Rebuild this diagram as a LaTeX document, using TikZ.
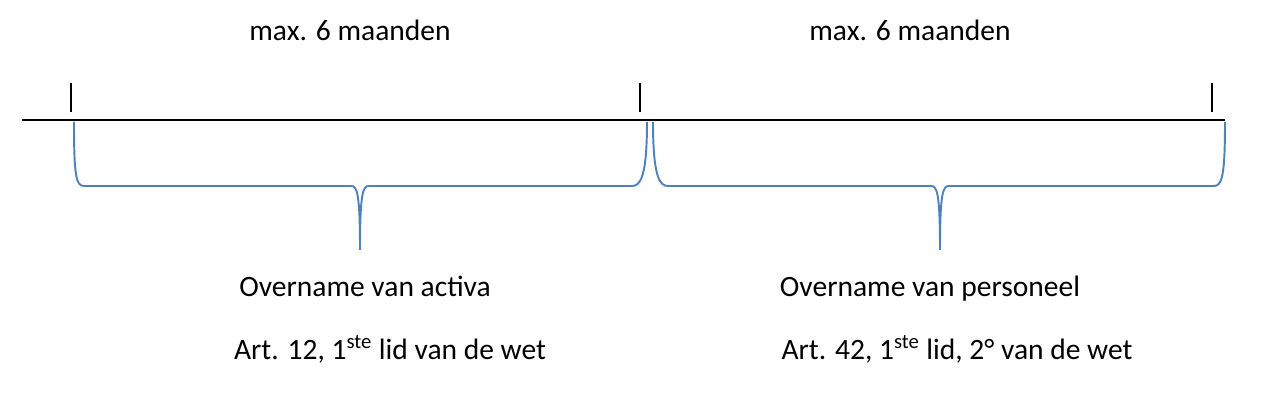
\documentclass[tikz,border=0pt]{standalone}
\usepackage{fontspec}
\setmainfont{Carlito}
\usepackage{tikz}
\usetikzlibrary{arrows,positioning}
\definecolor{bracecol}{RGB}{79,129,189}

\begin{document}
\begin{tikzpicture}[x=0.02cm,y=-0.02cm,thick,
  tick line/.style={draw=black,line width=0.8pt},
  brace line/.style={draw=bracecol,line width=1.1pt},
  label node/.style={font=\fontsize{16.8}{20}\selectfont,inner sep=0pt,anchor=base}]
  \useasboundingbox (0,0) rectangle (1279,404);
  % time axis
  \coordinate (start) at (22,120);
  \coordinate (stop) at (1225,120);
  \draw[tick line] (start) -- (stop);
  \foreach \x in {71,640,1212}
    \draw[tick line] (\x,83) -- (\x,112);
  % braces
  \coordinate (tip1) at (360,250);
  \coordinate (tip2) at (940,250);
  \path[brace line] (74,122) .. controls (74,176) and (76,186) .. (84,186)
    -- (351,186) .. controls (357,186) and (360,192) .. (tip1)
    (tip1) .. controls (360,192) and (363,186) .. (369,186)
    -- (632,186) .. controls (640,186) and (647,178) .. (647,122);
  \path[brace line] (653,122) .. controls (653,178) and (660,186) .. (668,186)
    -- (931,186) .. controls (937,186) and (940,192) .. (tip2)
    (tip2) .. controls (940,192) and (943,186) .. (949,186)
    -- (1214,186) .. controls (1222,186) and (1225,176) .. (1225,122);
  % labels
  \node[label node] (max1) at (350,41) {max. 6 maanden};
  \node[label node] (max2) at (910,41) {max. 6 maanden};
  \node[label node] (activa) at (365,297) {Overname van activa};
  \node[label node] (art12) at (390,360) {Art. 12, 1\textsuperscript{ste} lid van de wet};
  \node[label node] (personeel) at (930,297) {Overname van personeel};
  \node[label node] (art42) at (957,360) {Art. 42, 1\textsuperscript{ste} lid, 2° van de wet};
\end{tikzpicture}
\end{document}
